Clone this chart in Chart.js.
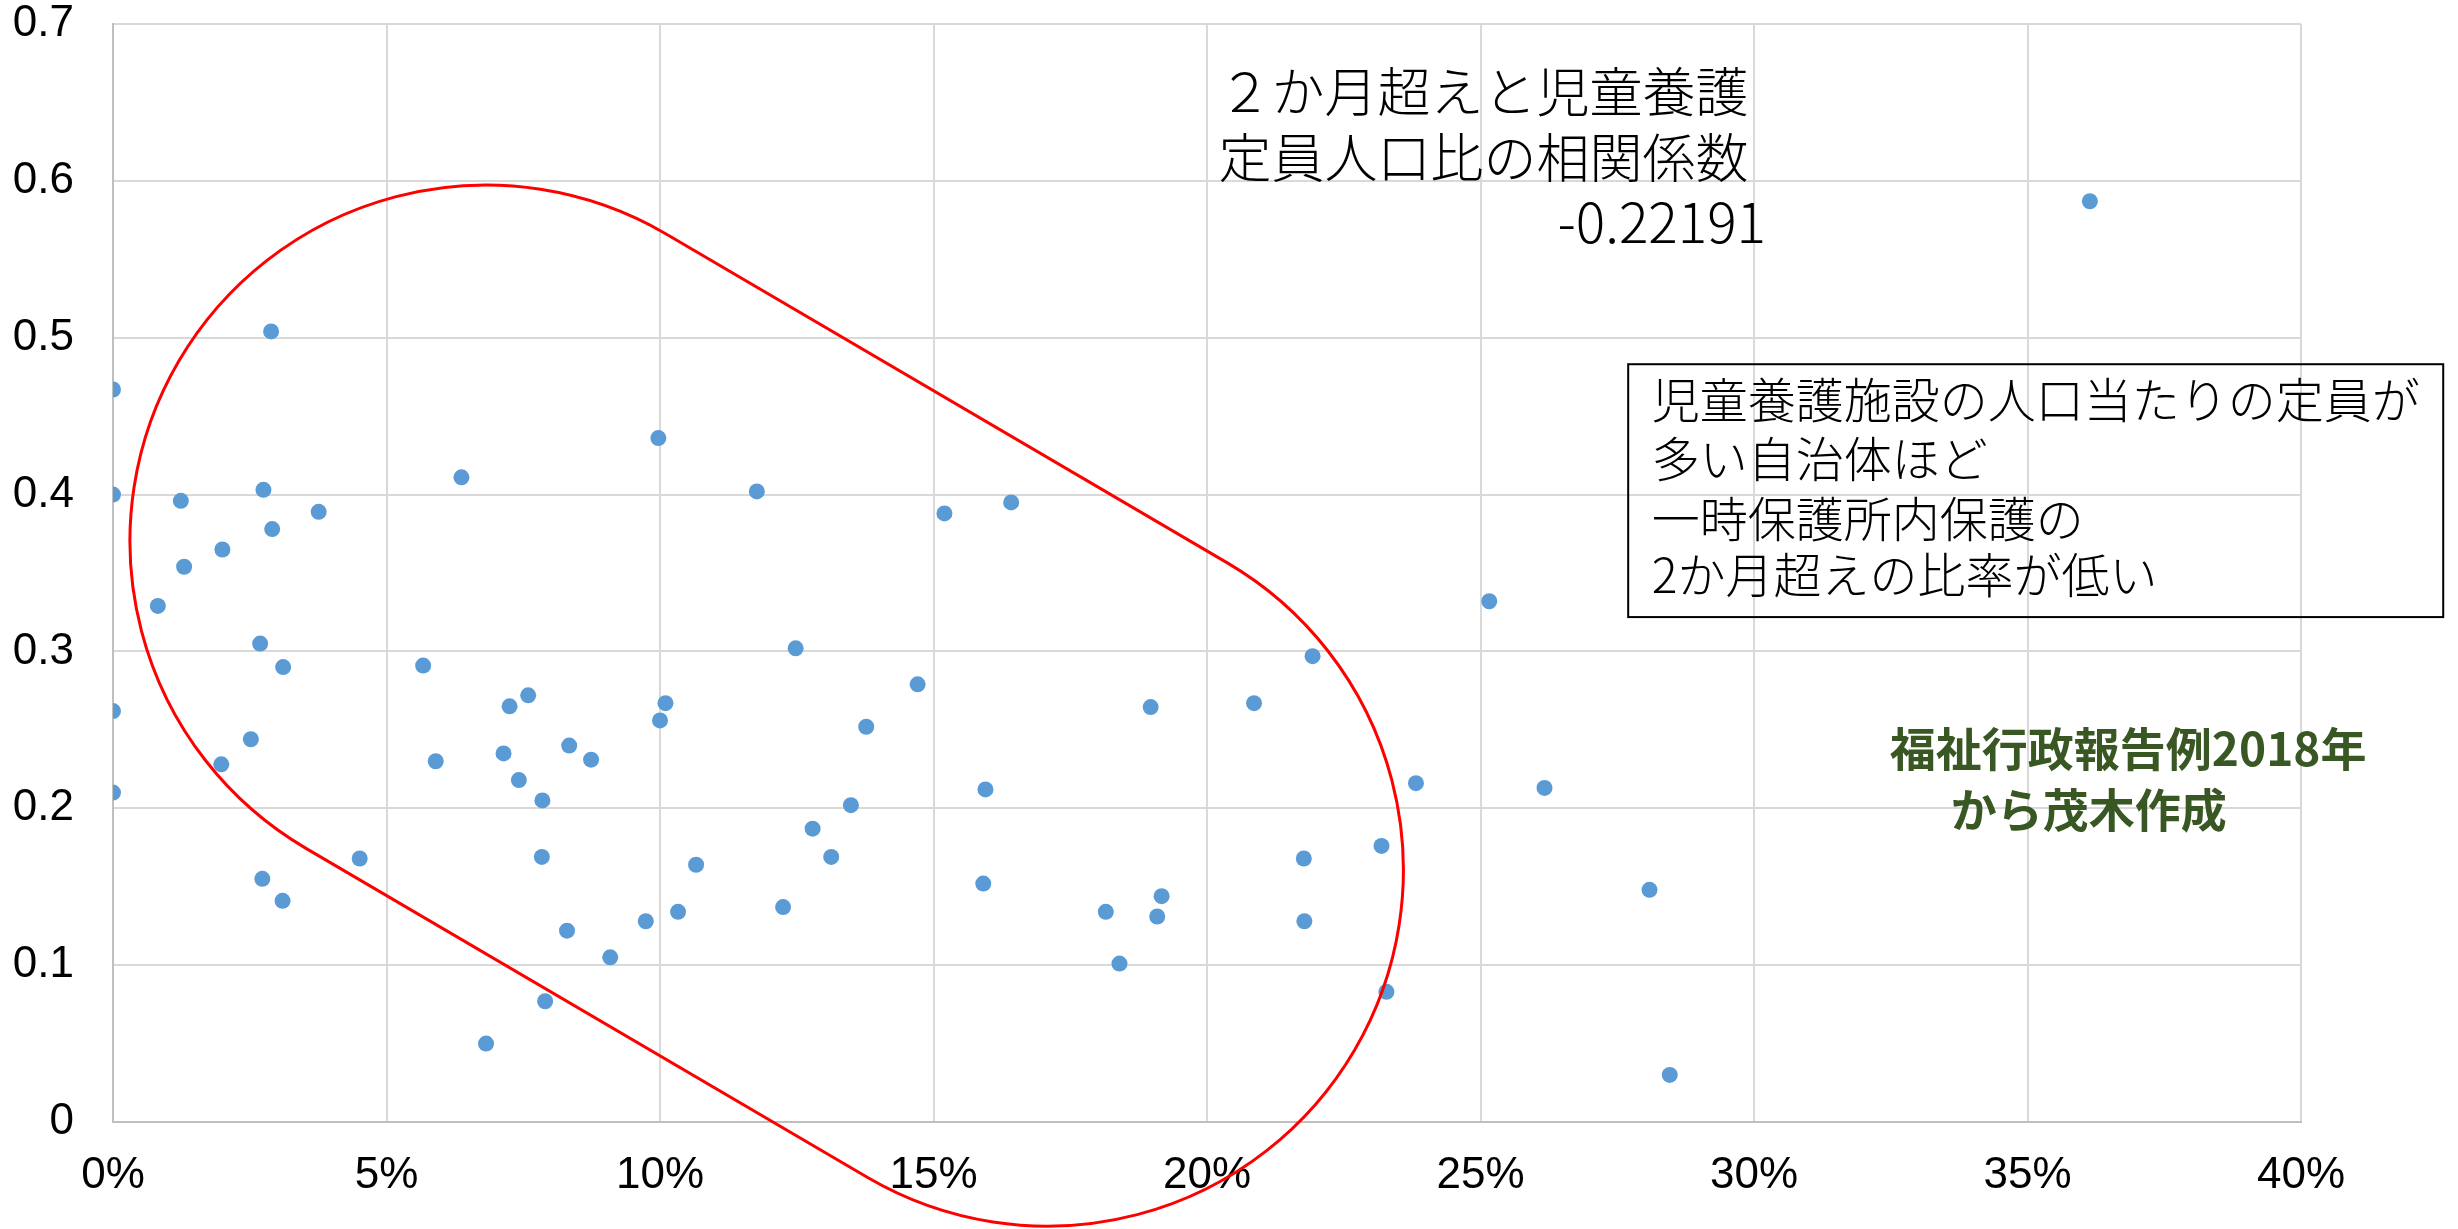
<!DOCTYPE html>
<html lang="ja">
<head>
<meta charset="utf-8">
<title>2か月超えと児童養護定員人口比</title>
<script src="https://cdn.jsdelivr.net/npm/chart.js@4/dist/chart.umd.min.js"></script>
<style>
  html, body { margin: 0; padding: 0; background: #ffffff; overflow: hidden; }
  canvas { display: block; }
</style>
</head>
<body>
<canvas id="chart" width="2458" height="1229"></canvas>
<script>
// 児童養護施設の定員 / 人口 (%) — 自治体ごと
const capacityPerPopulation = [
  0, 0, 0, 0, 0.82, 1.24, 1.30, 2.00, 1.98, 2.52,
  2.69, 2.75, 2.73, 2.89, 2.91, 3.11, 3.10, 3.76, 4.51, 5.67,
  5.90, 6.37, 6.82, 7.14, 7.25, 7.42, 7.59, 7.85, 7.84, 7.90,
  8.34, 8.74, 8.30, 9.09, 9.74, 9.97, 10.00, 10.10, 10.33, 10.66,
  11.77, 12.25, 12.48, 12.79, 13.13, 13.49, 13.77, 14.71, 15.20, 15.91,
  15.95, 16.42, 18.15, 18.40, 18.97, 19.09, 19.17, 20.86, 21.77, 21.78,
  21.93, 23.19, 23.28, 23.82, 25.16, 26.17, 28.09, 28.46, 36.14
];
// 一時保護所内保護のうち2か月超えの比率
const overTwoMonthsShare = [
  0.467, 0.400, 0.262, 0.210, 0.329, 0.396, 0.354, 0.365, 0.228, 0.244,
  0.305, 0.403, 0.155, 0.504, 0.378, 0.290, 0.141, 0.389, 0.168, 0.291,
  0.230, 0.411, 0.050, 0.235, 0.265, 0.218, 0.272, 0.205, 0.169, 0.077,
  0.240, 0.231, 0.122, 0.105, 0.128, 0.436, 0.256, 0.267, 0.134, 0.164,
  0.402, 0.137, 0.302, 0.187, 0.169, 0.202, 0.252, 0.279, 0.388, 0.152,
  0.212, 0.395, 0.134, 0.101, 0.2645, 0.131, 0.144, 0.267, 0.168, 0.128,
  0.297, 0.176, 0.083, 0.216, 0.332, 0.213, 0.148, 0.030, 0.587
];

const xTickLabels = ['0%', '5%', '10%', '15%', '20%', '25%', '30%', '35%', '40%'];
const yTickLabels = ['0', '0.1', '0.2', '0.3', '0.4', '0.5', '0.6', '0.7'];

const titleLines = ['２か月超えと児童養護', '定員人口比の相関係数'];
const correlationText = '-0.22191';
const noteLines = ['児童養護施設の人口当たりの定員が', '多い自治体ほど', '一時保護所内保護の', '2か月超えの比率が低い'];
const sourceLines = ['福祉行政報告例2018年', 'から茂木作成'];

// Red capsule enclosing the main cluster: two end-cap centres (data units) and cap radius (x units)
const capsuleEnds = [[6.82, 0.3703], [17.08, 0.1606]];
const capsuleRadiusX = 6.51;

const points = capacityPerPopulation.map((x, i) => ({ x: x, y: overTwoMonthsShare[i] }));

const TICK_FONT = { family: "'Liberation Sans Narrow', 'Liberation Sans', Arial, sans-serif", size: 44, lineHeight: 1 };
const CJK = "'Noto Sans CJK JP', 'Noto Sans', sans-serif";

const overlayPlugin = {
  id: 'overlay',
  afterDatasetsDraw(chart) {
    const { ctx } = chart;
    const xs = chart.scales.x, ys = chart.scales.y;
    const px = v => xs.getPixelForValue(v);
    const py = v => ys.getPixelForValue(v);

    // capsule
    const A = { x: px(capsuleEnds[0][0]), y: py(capsuleEnds[0][1]) };
    const B = { x: px(capsuleEnds[1][0]), y: py(capsuleEnds[1][1]) };
    const r = px(capsuleRadiusX) - px(0);
    const th = Math.atan2(B.y - A.y, B.x - A.x);
    ctx.save();
    ctx.beginPath();
    ctx.arc(B.x, B.y, r, th - Math.PI / 2, th + Math.PI / 2);
    ctx.arc(A.x, A.y, r, th + Math.PI / 2, th + Math.PI * 1.5);
    ctx.closePath();
    ctx.strokeStyle = '#ff0000';
    ctx.lineWidth = 3;
    ctx.stroke();
    ctx.restore();
  },
  afterDraw(chart) {
    const { ctx } = chart;
    const xs = chart.scales.x, ys = chart.scales.y;
    const px = v => xs.getPixelForValue(v);
    const py = v => ys.getPixelForValue(v);

    ctx.save();
    ctx.textBaseline = 'middle';

    // correlation title
    ctx.fillStyle = '#000000';
    ctx.font = `300 53px ${CJK}`;
    ctx.textAlign = 'right';
    const titleY = [0.6565, 0.6144];
    titleLines.forEach((t, i) => ctx.fillText(t, px(29.9), py(titleY[i])));
    ctx.font = `300 55px ${CJK}`;
    ctx.fillText(correlationText, px(30.22), py(0.5736));

    // boxed note
    const bx1 = px(27.70), bx2 = px(42.6), by1 = py(0.4831), by2 = py(0.3219);
    ctx.strokeStyle = '#000000';
    ctx.lineWidth = 2;
    ctx.strokeRect(bx1, by1, bx2 - bx1, by2 - by1);
    ctx.font = `300 48px ${CJK}`;
    ctx.textAlign = 'left';
    const noteY = [0.4602, 0.4226, 0.3843, 0.3486];
    noteLines.forEach((t, i) => ctx.fillText(t, px(28.13), py(noteY[i])));

    // source
    ctx.fillStyle = '#385723';
    ctx.font = `700 46px ${CJK}`;
    ctx.textAlign = 'center';
    const srcPos = [[36.84, 0.2384], [36.12, 0.1995]];
    sourceLines.forEach((t, i) => ctx.fillText(t, px(srcPos[i][0]), py(srcPos[i][1])));
    ctx.restore();
  }
};

new Chart(document.getElementById('chart'), {
  type: 'scatter',
  data: {
    datasets: [{
      data: points,
      backgroundColor: '#5B9BD5',
      borderColor: '#5B9BD5',
      borderWidth: 0,
      pointRadius: 8,
      pointHoverRadius: 8
    }]
  },
  options: {
    responsive: false,
    animation: false,
    devicePixelRatio: 1,
    layout: { padding: { top: 24, right: 157, left: 0, bottom: 0 } },
    plugins: { legend: { display: false }, tooltip: { enabled: false } },
    scales: {
      x: {
        type: 'linear',
        min: 0, max: 40,
        afterFit: s => { s.height = 107; s.paddingLeft = 40; s.paddingRight = 40; },
        ticks: {
          stepSize: 5,
          padding: 32,
          color: '#000000',
          font: TICK_FONT,
          maxRotation: 0,
          callback: v => xTickLabels[Math.round(v / 5)]
        },
        grid: { color: '#d9d9d9', lineWidth: 2, drawTicks: false },
        border: { color: '#bfbfbf', width: 2 }
      },
      y: {
        type: 'linear',
        min: 0, max: 0.7,
        afterFit: s => { s.width = 113; s.paddingTop = 22; s.paddingBottom = 22; },
        ticks: {
          stepSize: 0.1,
          padding: 39,
          color: '#000000',
          font: TICK_FONT,
          callback: v => yTickLabels[Math.round(v * 10)]
        },
        grid: { color: '#d9d9d9', lineWidth: 2, drawTicks: false },
        border: { color: '#bfbfbf', width: 2 }
      }
    }
  },
  plugins: [overlayPlugin]
});
</script>
</body>
</html>
